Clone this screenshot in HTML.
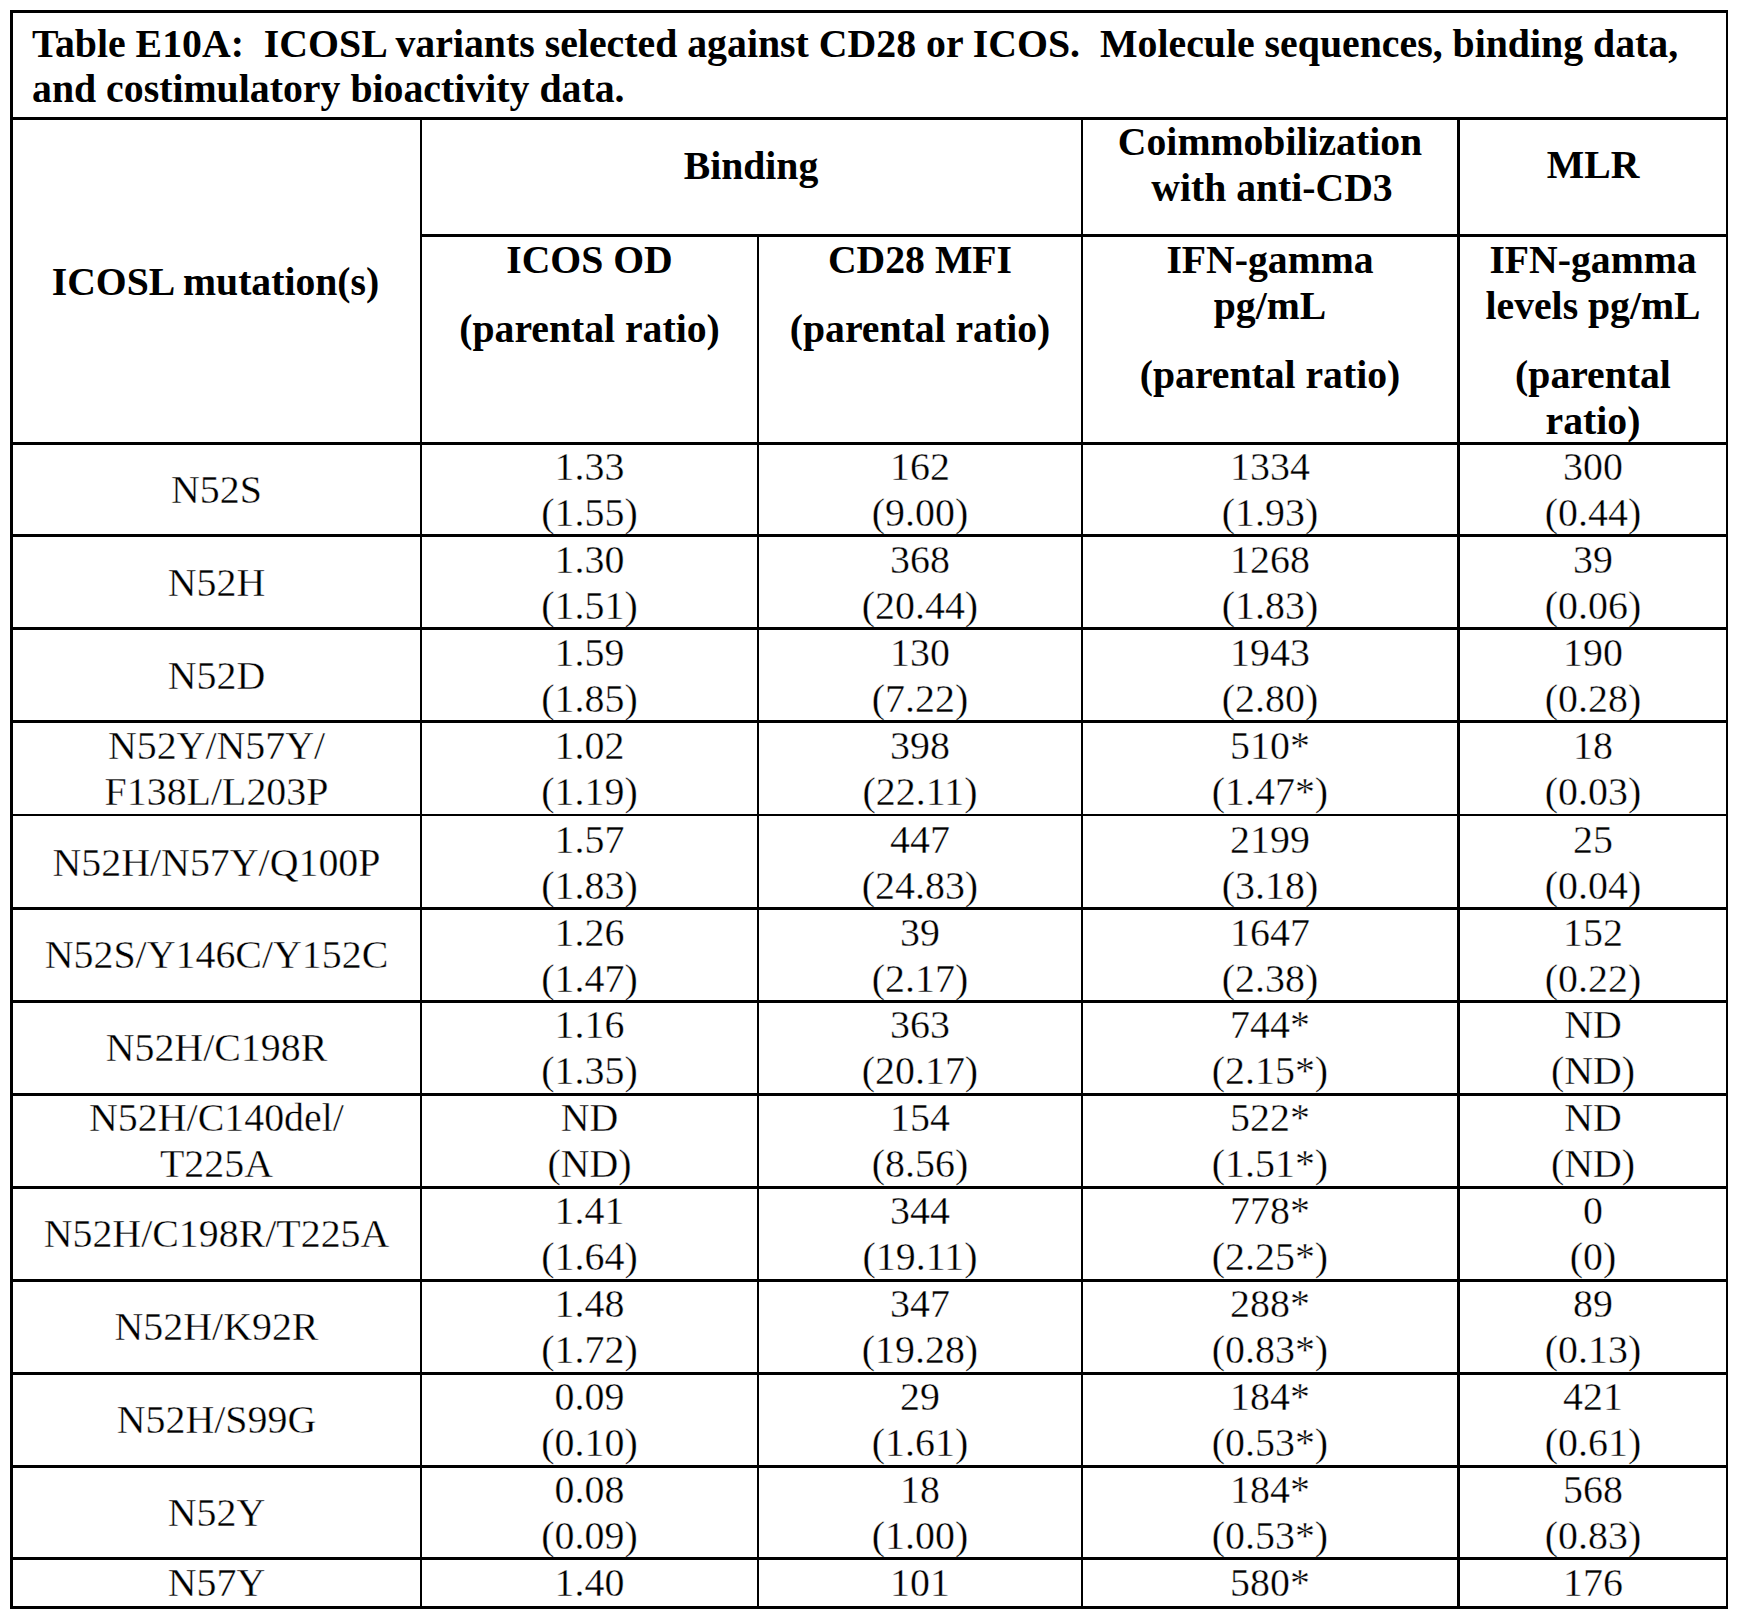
<!DOCTYPE html>
<html><head><meta charset="utf-8"><style>
html,body{margin:0;padding:0;background:#fff;}
body{width:1739px;height:1620px;position:relative;overflow:hidden;}
.l{position:absolute;background:#000;z-index:2;}
.t{position:absolute;text-align:center;font-family:"Liberation Serif",serif;color:#000;white-space:nowrap;line-height:46px;height:46px;}
.b{font-weight:bold;font-size:39.7px;}
.r{font-weight:normal;font-size:39.9px;-webkit-text-stroke:0.35px #fff;}
.tl{text-align:left;font-size:39.8px;}
</style></head><body>
<div class="l" style="left:10px;top:10px;width:1718px;height:3px"></div>
<div class="l" style="left:10px;top:1606px;width:1718px;height:3px"></div>
<div class="l" style="left:10px;top:10px;width:3px;height:1599px"></div>
<div class="l" style="left:1726px;top:10px;width:2px;height:1599px"></div>
<div class="l" style="left:10px;top:117px;width:1718px;height:3px"></div>
<div class="l" style="left:420px;top:234px;width:1308px;height:3px"></div>
<div class="l" style="left:10px;top:442px;width:1718px;height:3px"></div>
<div class="l" style="left:10px;top:534px;width:1718px;height:3px"></div>
<div class="l" style="left:10px;top:627px;width:1718px;height:3px"></div>
<div class="l" style="left:10px;top:720px;width:1718px;height:3px"></div>
<div class="l" style="left:10px;top:814px;width:1718px;height:2px"></div>
<div class="l" style="left:10px;top:907px;width:1718px;height:3px"></div>
<div class="l" style="left:10px;top:1000px;width:1718px;height:3px"></div>
<div class="l" style="left:10px;top:1093px;width:1718px;height:3px"></div>
<div class="l" style="left:10px;top:1186px;width:1718px;height:3px"></div>
<div class="l" style="left:10px;top:1279px;width:1718px;height:3px"></div>
<div class="l" style="left:10px;top:1372px;width:1718px;height:3px"></div>
<div class="l" style="left:10px;top:1465px;width:1718px;height:3px"></div>
<div class="l" style="left:10px;top:1557px;width:1718px;height:3px"></div>
<div class="l" style="left:420px;top:117px;width:2px;height:1492px"></div>
<div class="l" style="left:757px;top:234px;width:2px;height:1375px"></div>
<div class="l" style="left:1081px;top:117px;width:2px;height:1492px"></div>
<div class="l" style="left:1457px;top:117px;width:3px;height:1492px"></div>
<div class="t b tl" style="left:32px;top:21px">Table E10A:&nbsp; ICOSL variants selected against CD28 or ICOS.&nbsp; Molecule sequences, binding data,</div>
<div class="t b tl" style="left:32px;top:66px">and costimulatory bioactivity data.</div>
<div class="t b" style="left:12px;top:259px;width:407px">ICOSL mutation(s)</div>
<div class="t b" style="left:422px;top:143px;width:658px">Binding</div>
<div class="t b" style="left:1083px;top:119px;width:374px">Coimmobilization</div>
<div class="t b" style="left:1085px;top:165px;width:374px">with anti-CD3</div>
<div class="t b" style="left:1460px;top:142px;width:266px">MLR</div>
<div class="t b" style="left:422px;top:237px;width:335px">ICOS OD</div>
<div class="t b" style="left:422px;top:306px;width:335px">(parental ratio)</div>
<div class="t b" style="left:759px;top:237px;width:322px">CD28 MFI</div>
<div class="t b" style="left:759px;top:306px;width:322px">(parental ratio)</div>
<div class="t b" style="left:1083px;top:237px;width:374px">IFN-gamma</div>
<div class="t b" style="left:1083px;top:283px;width:374px">pg/mL</div>
<div class="t b" style="left:1083px;top:352px;width:374px">(parental ratio)</div>
<div class="t b" style="left:1460px;top:237px;width:266px">IFN-gamma</div>
<div class="t b" style="left:1460px;top:283px;width:266px">levels pg/mL</div>
<div class="t b" style="left:1460px;top:352px;width:266px">(parental</div>
<div class="t b" style="left:1460px;top:398px;width:266px">ratio)</div>
<div class="t r" style="left:13px;top:467px;width:407px">N52S</div>
<div class="t r" style="left:422px;top:444px;width:335px">1.33</div>
<div class="t r" style="left:422px;top:490px;width:335px">(1.55)</div>
<div class="t r" style="left:759px;top:444px;width:322px">162</div>
<div class="t r" style="left:759px;top:490px;width:322px">(9.00)</div>
<div class="t r" style="left:1083px;top:444px;width:374px">1334</div>
<div class="t r" style="left:1083px;top:490px;width:374px">(1.93)</div>
<div class="t r" style="left:1460px;top:444px;width:266px">300</div>
<div class="t r" style="left:1460px;top:490px;width:266px">(0.44)</div>
<div class="t r" style="left:13px;top:560px;width:407px">N52H</div>
<div class="t r" style="left:422px;top:537px;width:335px">1.30</div>
<div class="t r" style="left:422px;top:583px;width:335px">(1.51)</div>
<div class="t r" style="left:759px;top:537px;width:322px">368</div>
<div class="t r" style="left:759px;top:583px;width:322px">(20.44)</div>
<div class="t r" style="left:1083px;top:537px;width:374px">1268</div>
<div class="t r" style="left:1083px;top:583px;width:374px">(1.83)</div>
<div class="t r" style="left:1460px;top:537px;width:266px">39</div>
<div class="t r" style="left:1460px;top:583px;width:266px">(0.06)</div>
<div class="t r" style="left:13px;top:653px;width:407px">N52D</div>
<div class="t r" style="left:422px;top:630px;width:335px">1.59</div>
<div class="t r" style="left:422px;top:676px;width:335px">(1.85)</div>
<div class="t r" style="left:759px;top:630px;width:322px">130</div>
<div class="t r" style="left:759px;top:676px;width:322px">(7.22)</div>
<div class="t r" style="left:1083px;top:630px;width:374px">1943</div>
<div class="t r" style="left:1083px;top:676px;width:374px">(2.80)</div>
<div class="t r" style="left:1460px;top:630px;width:266px">190</div>
<div class="t r" style="left:1460px;top:676px;width:266px">(0.28)</div>
<div class="t r" style="left:13px;top:723px;width:407px">N52Y/N57Y/</div>
<div class="t r" style="left:13px;top:769px;width:407px">F138L/L203P</div>
<div class="t r" style="left:422px;top:723px;width:335px">1.02</div>
<div class="t r" style="left:422px;top:769px;width:335px">(1.19)</div>
<div class="t r" style="left:759px;top:723px;width:322px">398</div>
<div class="t r" style="left:759px;top:769px;width:322px">(22.11)</div>
<div class="t r" style="left:1083px;top:723px;width:374px">510*</div>
<div class="t r" style="left:1083px;top:769px;width:374px">(1.47*)</div>
<div class="t r" style="left:1460px;top:723px;width:266px">18</div>
<div class="t r" style="left:1460px;top:769px;width:266px">(0.03)</div>
<div class="t r" style="left:13px;top:840px;width:407px">N52H/N57Y/Q100P</div>
<div class="t r" style="left:422px;top:817px;width:335px">1.57</div>
<div class="t r" style="left:422px;top:863px;width:335px">(1.83)</div>
<div class="t r" style="left:759px;top:817px;width:322px">447</div>
<div class="t r" style="left:759px;top:863px;width:322px">(24.83)</div>
<div class="t r" style="left:1083px;top:817px;width:374px">2199</div>
<div class="t r" style="left:1083px;top:863px;width:374px">(3.18)</div>
<div class="t r" style="left:1460px;top:817px;width:266px">25</div>
<div class="t r" style="left:1460px;top:863px;width:266px">(0.04)</div>
<div class="t r" style="left:13px;top:932px;width:407px">N52S/Y146C/Y152C</div>
<div class="t r" style="left:422px;top:910px;width:335px">1.26</div>
<div class="t r" style="left:422px;top:956px;width:335px">(1.47)</div>
<div class="t r" style="left:759px;top:910px;width:322px">39</div>
<div class="t r" style="left:759px;top:956px;width:322px">(2.17)</div>
<div class="t r" style="left:1083px;top:910px;width:374px">1647</div>
<div class="t r" style="left:1083px;top:956px;width:374px">(2.38)</div>
<div class="t r" style="left:1460px;top:910px;width:266px">152</div>
<div class="t r" style="left:1460px;top:956px;width:266px">(0.22)</div>
<div class="t r" style="left:13px;top:1025px;width:407px">N52H/C198R</div>
<div class="t r" style="left:422px;top:1002px;width:335px">1.16</div>
<div class="t r" style="left:422px;top:1048px;width:335px">(1.35)</div>
<div class="t r" style="left:759px;top:1002px;width:322px">363</div>
<div class="t r" style="left:759px;top:1048px;width:322px">(20.17)</div>
<div class="t r" style="left:1083px;top:1002px;width:374px">744*</div>
<div class="t r" style="left:1083px;top:1048px;width:374px">(2.15*)</div>
<div class="t r" style="left:1460px;top:1002px;width:266px">ND</div>
<div class="t r" style="left:1460px;top:1048px;width:266px">(ND)</div>
<div class="t r" style="left:13px;top:1095px;width:407px">N52H/C140del/</div>
<div class="t r" style="left:13px;top:1141px;width:407px">T225A</div>
<div class="t r" style="left:422px;top:1095px;width:335px">ND</div>
<div class="t r" style="left:422px;top:1141px;width:335px">(ND)</div>
<div class="t r" style="left:759px;top:1095px;width:322px">154</div>
<div class="t r" style="left:759px;top:1141px;width:322px">(8.56)</div>
<div class="t r" style="left:1083px;top:1095px;width:374px">522*</div>
<div class="t r" style="left:1083px;top:1141px;width:374px">(1.51*)</div>
<div class="t r" style="left:1460px;top:1095px;width:266px">ND</div>
<div class="t r" style="left:1460px;top:1141px;width:266px">(ND)</div>
<div class="t r" style="left:13px;top:1211px;width:407px">N52H/C198R/T225A</div>
<div class="t r" style="left:422px;top:1188px;width:335px">1.41</div>
<div class="t r" style="left:422px;top:1234px;width:335px">(1.64)</div>
<div class="t r" style="left:759px;top:1188px;width:322px">344</div>
<div class="t r" style="left:759px;top:1234px;width:322px">(19.11)</div>
<div class="t r" style="left:1083px;top:1188px;width:374px">778*</div>
<div class="t r" style="left:1083px;top:1234px;width:374px">(2.25*)</div>
<div class="t r" style="left:1460px;top:1188px;width:266px">0</div>
<div class="t r" style="left:1460px;top:1234px;width:266px">(0)</div>
<div class="t r" style="left:13px;top:1304px;width:407px">N52H/K92R</div>
<div class="t r" style="left:422px;top:1281px;width:335px">1.48</div>
<div class="t r" style="left:422px;top:1327px;width:335px">(1.72)</div>
<div class="t r" style="left:759px;top:1281px;width:322px">347</div>
<div class="t r" style="left:759px;top:1327px;width:322px">(19.28)</div>
<div class="t r" style="left:1083px;top:1281px;width:374px">288*</div>
<div class="t r" style="left:1083px;top:1327px;width:374px">(0.83*)</div>
<div class="t r" style="left:1460px;top:1281px;width:266px">89</div>
<div class="t r" style="left:1460px;top:1327px;width:266px">(0.13)</div>
<div class="t r" style="left:13px;top:1397px;width:407px">N52H/S99G</div>
<div class="t r" style="left:422px;top:1374px;width:335px">0.09</div>
<div class="t r" style="left:422px;top:1420px;width:335px">(0.10)</div>
<div class="t r" style="left:759px;top:1374px;width:322px">29</div>
<div class="t r" style="left:759px;top:1420px;width:322px">(1.61)</div>
<div class="t r" style="left:1083px;top:1374px;width:374px">184*</div>
<div class="t r" style="left:1083px;top:1420px;width:374px">(0.53*)</div>
<div class="t r" style="left:1460px;top:1374px;width:266px">421</div>
<div class="t r" style="left:1460px;top:1420px;width:266px">(0.61)</div>
<div class="t r" style="left:13px;top:1490px;width:407px">N52Y</div>
<div class="t r" style="left:422px;top:1467px;width:335px">0.08</div>
<div class="t r" style="left:422px;top:1513px;width:335px">(0.09)</div>
<div class="t r" style="left:759px;top:1467px;width:322px">18</div>
<div class="t r" style="left:759px;top:1513px;width:322px">(1.00)</div>
<div class="t r" style="left:1083px;top:1467px;width:374px">184*</div>
<div class="t r" style="left:1083px;top:1513px;width:374px">(0.53*)</div>
<div class="t r" style="left:1460px;top:1467px;width:266px">568</div>
<div class="t r" style="left:1460px;top:1513px;width:266px">(0.83)</div>
<div class="t r" style="left:13px;top:1560px;width:407px">N57Y</div>
<div class="t r" style="left:422px;top:1560px;width:335px">1.40</div>
<div class="t r" style="left:759px;top:1560px;width:322px">101</div>
<div class="t r" style="left:1083px;top:1560px;width:374px">580*</div>
<div class="t r" style="left:1460px;top:1560px;width:266px">176</div>
</body></html>
